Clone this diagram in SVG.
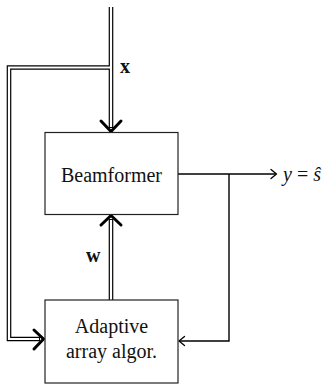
<svg xmlns="http://www.w3.org/2000/svg" width="332" height="384" viewBox="0 0 332 384">
<style>
.box{fill:#fff;stroke:#222;stroke-width:1.2}
.lbl{font-family:"Liberation Serif","DejaVu Serif",serif;font-size:20px;fill:#111}
.bold{font-weight:bold}
.dblo{fill:none;stroke:#000;stroke-width:4.6;stroke-linejoin:miter}
.dbli{fill:none;stroke:#fff;stroke-width:2.2;stroke-linejoin:miter}
.thin{fill:none;stroke:#000;stroke-width:1.4}
.chev{fill:none;stroke:#000;stroke-width:3;stroke-linecap:round;stroke-linejoin:round}
.tip{fill:none;stroke:#000;stroke-width:1.3;stroke-linecap:round;stroke-linejoin:round}
</style>
<g id="connectors">
  <path class="dblo" d="M111,7 V128"/>
  <path class="dblo" d="M111,67.5 H9 V339 H40"/>
  <path class="dblo" d="M111,300 V219"/>
  <path class="dbli" d="M111,7 V127"/>
  <path class="dbli" d="M111,67.5 H9 V339 H39"/>
  <path class="dbli" d="M111,300 V220"/>
  <path class="chev" d="M101,121 L111,131.5 L121,121"/>
  <path class="chev" d="M34,330 L43.5,339 L34,349"/>
  <path class="chev" d="M101,225 L111,215.5 L121,225"/>
  <path class="thin" d="M178,174 H276"/>
  <path class="tip" d="M271,169.5 L276.5,174 L271,178.5"/>
  <path class="thin" d="M229,174 V341 H179.5"/>
  <path class="tip" d="M184.5,336.5 L179,341 L184.5,345.5"/>
</g>
<g id="beamformer">
  <rect class="box" x="45" y="132.5" width="133" height="82"/>
  <text class="lbl" x="111.5" y="182" text-anchor="middle">Beamformer</text>
</g>
<g id="adaptive">
  <rect class="box" x="45" y="300" width="133" height="83"/>
  <text class="lbl" x="111.5" y="333" text-anchor="middle">Adaptive</text>
  <text class="lbl" x="111.5" y="358" text-anchor="middle">array algor.</text>
</g>
<g id="labels">
  <text class="lbl bold" x="120" y="73">x</text>
  <text class="lbl bold" x="86" y="262">w</text>
  <text class="lbl" x="283" y="181"><tspan font-style="italic">y</tspan> = <tspan font-style="italic">ŝ</tspan></text>
</g>
</svg>
